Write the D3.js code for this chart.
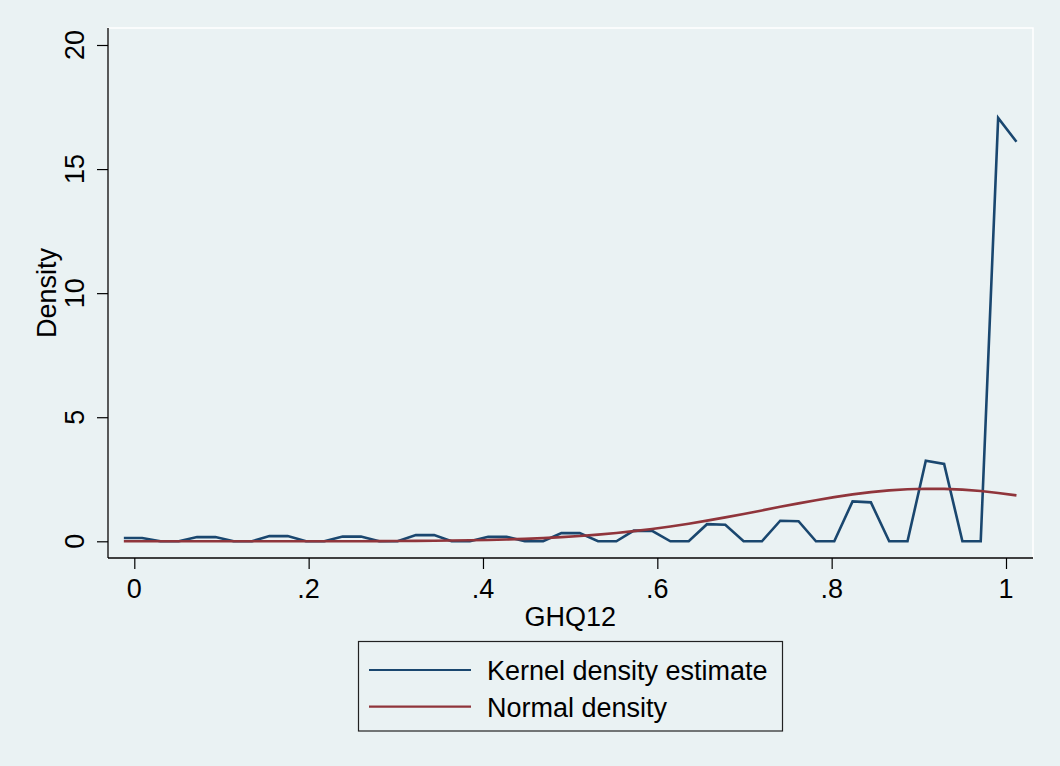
<!DOCTYPE html>
<html>
<head>
<meta charset="utf-8">
<script src="https://cdn.jsdelivr.net/npm/d3@7"></script>
<style>
  html, body { margin: 0; padding: 0; background: #eaf2f3; }
  svg { display: block; }
  text { font-family: "Liberation Sans", Arial, sans-serif; fill: #000; }
</style>
</head>
<body>
<svg id="stage"></svg>
<script>
/* ---------- data ---------- */

// evaluation grid of the density (GHQ12)
const grid_x = [
  -0.012, 0.009, 0.030, 0.051, 0.072, 0.093, 0.114, 0.135, 0.155, 0.176,
  0.197, 0.218, 0.239, 0.260, 0.281, 0.302, 0.323, 0.344, 0.364, 0.385,
  0.406, 0.427, 0.448, 0.469, 0.490, 0.511, 0.532, 0.553, 0.573, 0.594,
  0.615, 0.636, 0.657, 0.678, 0.699, 0.720, 0.741, 0.762, 0.782, 0.803,
  0.824, 0.845, 0.866, 0.887, 0.908, 0.929, 0.950, 0.971, 0.991, 1.012
];

const kernel_density = [
  0.13, 0.13, 0, 0, 0.17, 0.17, 0, 0, 0.21, 0.21,
  0, 0, 0.19, 0.19, 0, 0, 0.25, 0.25, 0, 0,
  0.18, 0.18, 0, 0, 0.33, 0.33, 0, 0, 0.43, 0.42,
  0, 0, 0.69, 0.67, 0, 0, 0.83, 0.81, 0, 0,
  1.61, 1.57, 0, 0, 3.25, 3.12, 0, 0, 17.06, 16.10
];

const normal_density = [
  0, 0, 0, 0.0001, 0.0001, 0.0002, 0.0003, 0.0004, 0.0006, 0.001,
  0.0015, 0.0022, 0.0034, 0.005, 0.0073, 0.0106, 0.0152, 0.0214, 0.0293, 0.0405,
  0.055, 0.074, 0.098, 0.129, 0.167, 0.213, 0.269, 0.335, 0.409, 0.498,
  0.598, 0.710, 0.833, 0.964, 1.102, 1.245, 1.389, 1.529, 1.657, 1.781,
  1.890, 1.982, 2.052, 2.098, 2.119, 2.113, 2.081, 2.025, 1.949, 1.851
];

const x_ticks = [0, 0.2, 0.4, 0.6, 0.8, 1];
const x_tick_labels = ["0", ".2", ".4", ".6", ".8", "1"];
const y_ticks = [0, 5, 10, 15, 20];
const x_title = "GHQ12";
const y_title = "Density";
const series_names = ["Kernel density estimate", "Normal density"];
const series_colors = ["#1a476f", "#90353b"];

/* ---------- setup ---------- */

const width = 1060;
const height = 766;
const font_size = 27;

const svg = d3.select("#stage")
  .attr("width", width)
  .attr("height", height);

svg.append("rect")
  .attr("width", width)
  .attr("height", height)
  .attr("fill", "#eaf2f3");

const plot = { left: 108, right: 1033, top: 28, bottom: 558 };

const x = d3.scaleLinear().domain([0, 1]).range([134.3, 1006]);
const y = d3.scaleLinear().domain([0, 20]).range([541.3, 45]);

// plot region outline
svg.append("rect")
  .attr("x", plot.left)
  .attr("y", plot.top)
  .attr("width", plot.right - plot.left)
  .attr("height", plot.bottom - plot.top)
  .attr("fill", "#eaf2f3")
  .attr("stroke", "#ffffff")
  .attr("stroke-width", 1.5);

/* ---------- lines ---------- */

const line_layer = svg.append("g");
const series = [kernel_density, normal_density];

series.forEach((vals, k) => {
  const line = d3.line()
    .x((d, i) => x(grid_x[i]))
    .y(d => y(d));
  line_layer.append("path")
    .datum(vals)
    .attr("d", line)
    .attr("fill", "none")
    .attr("stroke", series_colors[k])
    .attr("stroke-width", 2.6)
    .attr("stroke-linejoin", "miter");
});

/* ---------- axes ---------- */

const y_axis = svg.append("g")
  .attr("transform", `translate(${plot.left},0)`)
  .call(d3.axisLeft(y).tickValues(y_ticks).tickSize(11).tickFormat(""));

const x_axis = svg.append("g")
  .attr("transform", `translate(0,${plot.bottom})`)
  .call(d3.axisBottom(x).tickValues(x_ticks).tickSize(11).tickFormat(""));

[y_axis, x_axis].forEach(a => {
  a.select(".domain").remove();
  a.selectAll(".tick line").attr("stroke", "#000").attr("stroke-width", 1.2);
});

svg.append("line")
  .attr("x1", plot.left).attr("x2", plot.left)
  .attr("y1", plot.top).attr("y2", plot.bottom)
  .attr("stroke", "#000").attr("stroke-width", 1.3);

svg.append("line")
  .attr("x1", plot.left).attr("x2", plot.right)
  .attr("y1", plot.bottom).attr("y2", plot.bottom)
  .attr("stroke", "#000").attr("stroke-width", 1.3);

// y tick labels, rotated
svg.append("g")
  .selectAll("text")
  .data(y_ticks)
  .join("text")
  .attr("transform", d => `translate(84,${y(d)}) rotate(-90)`)
  .attr("text-anchor", "middle")
  .attr("font-size", font_size)
  .text(d => d);

// x tick labels
svg.append("g")
  .selectAll("text")
  .data(x_ticks)
  .join("text")
  .attr("x", d => x(d))
  .attr("y", 598)
  .attr("text-anchor", "middle")
  .attr("font-size", font_size)
  .text((d, i) => x_tick_labels[i]);

svg.append("text")
  .attr("x", (x(0) + x(1)) / 2)
  .attr("y", 626)
  .attr("text-anchor", "middle")
  .attr("font-size", font_size)
  .text(x_title);

svg.append("text")
  .attr("transform", `translate(56,${(plot.top + plot.bottom) / 2}) rotate(-90)`)
  .attr("text-anchor", "middle")
  .attr("font-size", font_size)
  .text(y_title);

/* ---------- legend ---------- */

const legend = svg.append("g");

legend.append("rect")
  .attr("x", 358.5)
  .attr("y", 641.5)
  .attr("width", 424)
  .attr("height", 89.5)
  .attr("fill", "#eaf2f3")
  .attr("stroke", "#222")
  .attr("stroke-width", 1.2);

series_names.forEach((name, k) => {
  const ly = 670 + k * 36.7;
  legend.append("line")
    .attr("x1", 369).attr("x2", 471)
    .attr("y1", ly).attr("y2", ly)
    .attr("stroke", series_colors[k])
    .attr("stroke-width", 2.2);
  legend.append("text")
    .attr("x", 487)
    .attr("y", ly + 10)
    .attr("font-size", font_size)
    .text(name);
});
</script>
</body>
</html>
